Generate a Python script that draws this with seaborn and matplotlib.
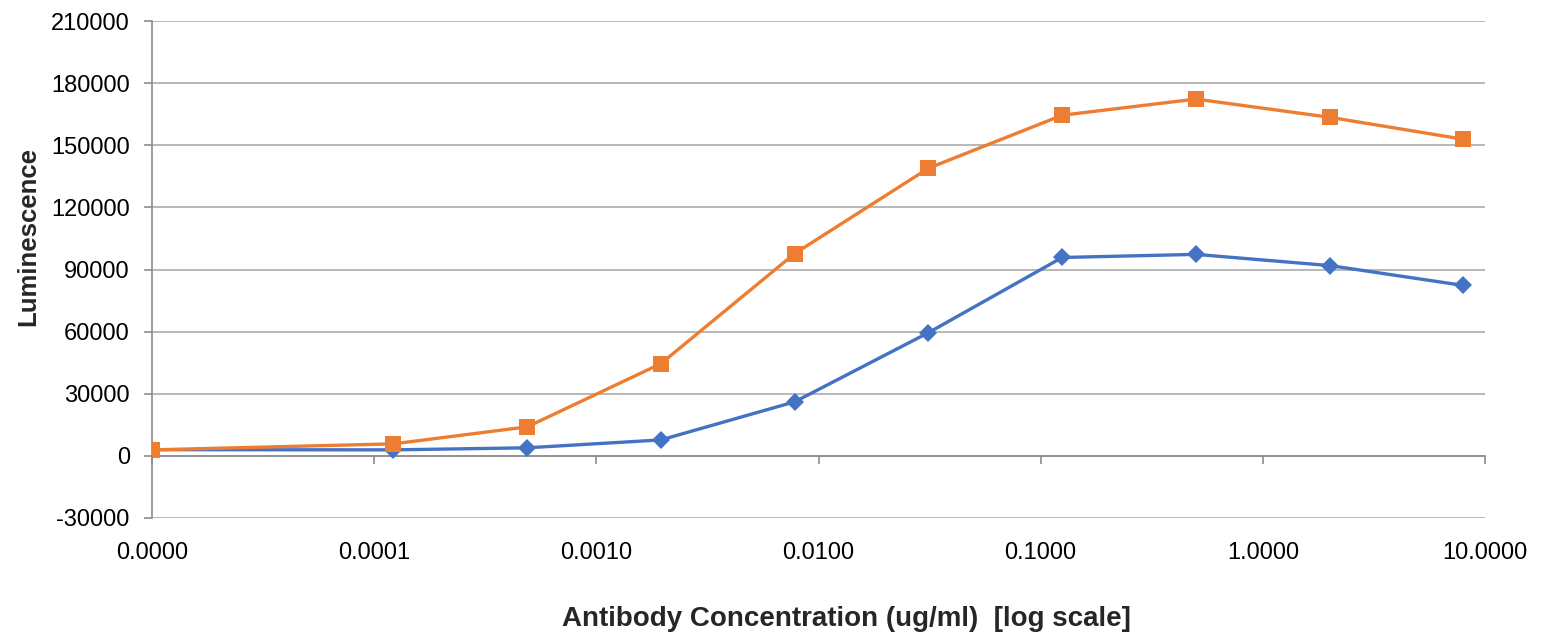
import numpy as np
import pandas as pd
import matplotlib
matplotlib.use("Agg")
import matplotlib.pyplot as plt
import matplotlib.ticker as mticker
import seaborn as sns

concentration = [1e-5, 0.000122, 0.000488, 0.00195, 0.0078125, 0.03125, 0.125, 0.5, 2.0, 8.0]
series_blue = [3000, 2900, 3900, 7700, 26100, 59500, 95800, 97300, 91900, 82300]
series_orange = [2900, 5800, 14000, 44500, 97700, 138900, 164500, 172300, 163500, 152900]
series_names = ["Series A", "Series B"]
x_ticks = [1e-5, 1e-4, 1e-3, 1e-2, 1e-1, 1, 10]
y_ticks = list(range(-30000, 210001, 30000))

df = pd.DataFrame({
    "conc": concentration * 2,
    "lum": series_blue + series_orange,
    "series": [series_names[0]] * len(concentration) + [series_names[1]] * len(concentration),
})

sns.set_theme(style="white")
plt.rcParams["font.family"] = ["Liberation Sans", "DejaVu Sans"]

fig = plt.figure(figsize=(15.47, 6.36), dpi=100)
ax = fig.add_axes([152 / 1547, 1 - 518 / 636, (1485 - 152) / 1547, (518 - 21) / 636])

palette = {series_names[0]: "#4472C4", series_names[1]: "#ED7D31"}
markers = {series_names[0]: "D", series_names[1]: "s"}
sns.lineplot(data=df, x="conc", y="lum", hue="series", style="series",
             palette=palette, markers=markers, dashes=False, linewidth=2.4,
             markersize=10, markeredgewidth=0, legend=False, ax=ax, zorder=3)
for ln in ax.lines:
    if ln.get_color() == "#ED7D31":
        ln.set_markersize(11)
    else:
        ln.set_markersize(9.5)

ax.set_xscale("log")
ax.set_xlim(1e-5, 10)
ax.set_ylim(-30000, 210000)
ax.set_yticks(y_ticks)
ax.set_yticklabels([str(v) for v in y_ticks])
ax.xaxis.set_major_locator(mticker.FixedLocator(x_ticks))
ax.xaxis.set_minor_locator(mticker.NullLocator())
ax.yaxis.grid(True, color="#ABABAB", linewidth=1.2)
ax.xaxis.grid(False)

for s in ["top", "right"]:
    ax.spines[s].set_visible(False)
ax.spines["left"].set_color("#8C8C8C")
ax.spines["left"].set_linewidth(1.2)
ax.spines["bottom"].set_position(("data", 0))
ax.spines["bottom"].set_color("#8C8C8C")
ax.spines["bottom"].set_linewidth(1.2)
ax.tick_params(axis="x", which="major", direction="out", length=6, width=1.2,
               color="#8C8C8C", labelbottom=False, bottom=True)
ax.tick_params(axis="y", which="major", direction="out", length=6, width=1.2,
               color="#8C8C8C", left=True, labelsize=17, pad=10, labelcolor="#000000")

sec = ax.secondary_xaxis(0)
sec.set_xscale("log")
sec.xaxis.set_major_locator(mticker.FixedLocator(x_ticks))
sec.xaxis.set_minor_locator(mticker.NullLocator())
sec.xaxis.set_major_formatter(mticker.FuncFormatter(lambda v, p: f"{v:.4f}"))
sec.tick_params(axis="x", length=0, labelsize=17, pad=17, labelcolor="#000000")
sec.spines["bottom"].set_visible(False)

ax.set_xlabel("")
ax.set_ylabel("")
fig.text(28 / 1547, 1 - 237 / 636, "Luminescence", rotation=90,
         ha="center", va="center", fontsize=18.5, fontweight="bold")
fig.text(846 / 1547, 1 - 619 / 636, "Antibody Concentration (ug/ml)  [log scale]",
         ha="center", va="center", fontsize=20, fontweight="bold")

fig.savefig("out.png", dpi=100)
